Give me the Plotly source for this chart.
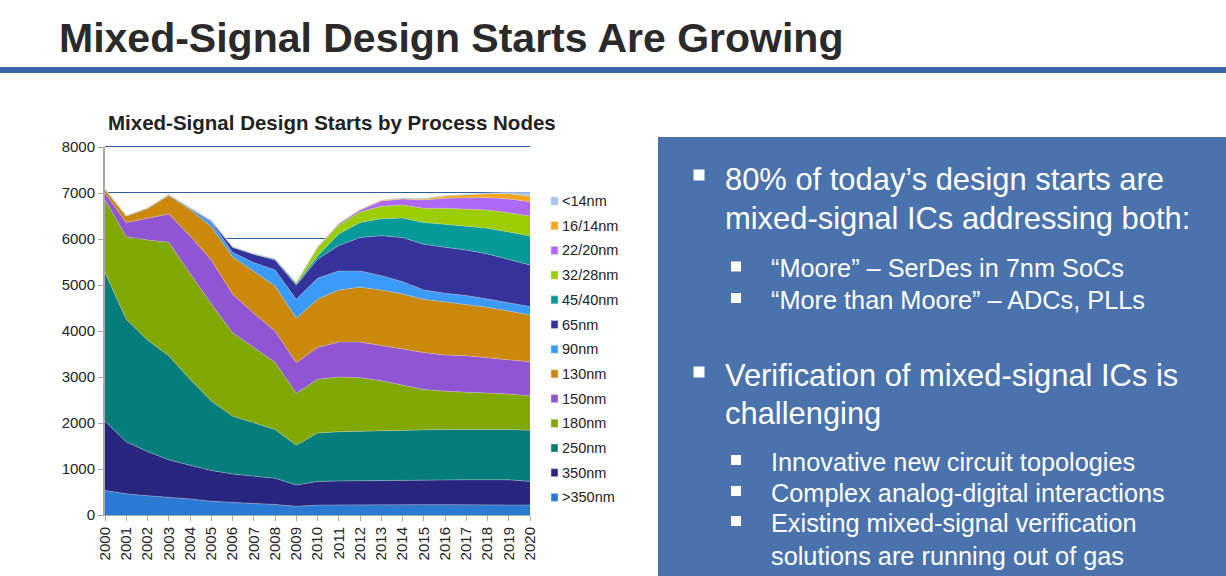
import plotly.graph_objects as go

years = list(range(2000, 2021))
y_ticks = list(range(0, 9000, 1000))

# cumulative top edge of each band
top_gt350 = [530, 460, 420, 390, 350, 300, 270, 250, 230, 188, 215, 220, 220, 225, 225, 225, 225, 225, 225, 225, 215]
top_350 = [2040, 1590, 1380, 1200, 1080, 970, 890, 840, 800, 652, 730, 740, 745, 760, 760, 765, 765, 765, 765, 765, 730]
top_250 = [5270, 4254, 3805, 3460, 2950, 2480, 2150, 2000, 1860, 1515, 1780, 1810, 1820, 1840, 1845, 1855, 1860, 1860, 1860, 1860, 1840]
top_180 = [6850, 6050, 5980, 5928, 5254, 4590, 3964, 3650, 3320, 2645, 2950, 3000, 2985, 2920, 2830, 2730, 2690, 2670, 2650, 2630, 2590]
top_150 = [7000, 6355, 6450, 6544, 6066, 5544, 4805, 4385, 4000, 3311, 3640, 3760, 3760, 3690, 3610, 3530, 3480, 3460, 3420, 3380, 3330]
top_130 = [7080, 6500, 6667, 6943, 6645, 6269, 5616, 5290, 4979, 4276, 4689, 4892, 4950, 4892, 4805, 4689, 4630, 4573, 4515, 4435, 4348]
top_90 = [7085, 6505, 6672, 6960, 6667, 6377, 5710, 5486, 5327, 4689, 5145, 5305, 5305, 5203, 5073, 4892, 4820, 4770, 4696, 4616, 4530]
top_65 = [7085, 6505, 6672, 6965, 6680, 6400, 5820, 5667, 5544, 4993, 5560, 5856, 6030, 6073, 6030, 5885, 5820, 5760, 5675, 5560, 5435]
top_45 = [7085, 6505, 6672, 6965, 6680, 6400, 5830, 5680, 5566, 5022, 5630, 6110, 6356, 6442, 6457, 6356, 6320, 6283, 6232, 6153, 6065]
top_32 = [7085, 6505, 6672, 6965, 6680, 6400, 5830, 5680, 5570, 5051, 5800, 6305, 6587, 6711, 6740, 6667, 6667, 6650, 6630, 6570, 6500]
top_22 = [7085, 6505, 6672, 6965, 6680, 6400, 5830, 5680, 5570, 5055, 5820, 6330, 6630, 6825, 6870, 6850, 6885, 6900, 6900, 6870, 6810]
top_16 = [7085, 6505, 6672, 6965, 6680, 6400, 5830, 5680, 5570, 5055, 5825, 6335, 6640, 6840, 6885, 6870, 6935, 6957, 6985, 6985, 6935]
top_14 = [7085, 6505, 6672, 6965, 6680, 6400, 5830, 5680, 5570, 5055, 5825, 6335, 6640, 6845, 6895, 6885, 6945, 6975, 7000, 7015, 7010]

names = [">350nm", "350nm", "250nm", "180nm", "150nm", "130nm", "90nm", "65nm", "45/40nm", "32/28nm", "22/20nm", "16/14nm", "<14nm"]
tops = [top_gt350, top_350, top_250, top_180, top_150, top_130, top_90, top_65, top_45, top_32, top_22, top_16, top_14]
colors = ["#2B7BD4", "#29267F", "#067D7D", "#80A800", "#8F55D3", "#CC880B", "#3A9BFA", "#36329B", "#06999A", "#9CCD00", "#AF69F7", "#F6A61C", "#A6C5F8"]

FONT = "Liberation Sans"
GRID = "#2A5F98"
W, H = 1226, 576
LEFT, RIGHT, TOP, BOTTOM = 105, 530, 147, 515


# page pixels to paper coords, paper is the plot area here
def px(x):
    return (x - LEFT) / (RIGHT - LEFT)


def py(y):
    return (BOTTOM - y) / (BOTTOM - TOP)


def rect(x0, x1, y0, y1, color, line=None):
    return dict(type="rect", xref="paper", yref="paper", x0=px(x0), x1=px(x1), y0=py(y1), y1=py(y0),
                fillcolor=color, line=line or dict(width=0), layer="above")


fig = go.Figure()
for i, (name, top, color) in enumerate(zip(names, tops, colors)):
    fig.add_trace(go.Scatter(
        x=years, y=top, name=name, mode="lines",
        line=dict(color="rgba(215,215,215,0.6)", width=0.6),
        fill="tozeroy" if i == 0 else "tonexty",
        fillcolor=color,
        showlegend=False,
    ))

shapes = [rect(0, W, 67, 73, "#3A62A6"), rect(658, W, 137, H, "#4A72AD")]

# gridlines as shapes, plotly drops the one on the range edge; half pixel keeps them sharp
for tick in y_ticks[1:]:
    grid_y = tick / y_ticks[-1] + 0.5 / (BOTTOM - TOP)
    shapes.append(dict(type="line", xref="paper", yref="paper", x0=0, x1=1, y0=grid_y, y1=grid_y,
                       line=dict(color=GRID, width=1), layer="below"))

annotations = [
    dict(text="<b>Mixed-Signal Design Starts Are Growing</b>", x=57, y=38, size=41, color="#2A2A2A"),
    dict(text="<b>Mixed-Signal Design Starts by Process Nodes</b>", x=106, y=122, size=20.5, color="#222222"),
]

# legend, top entry first
for i, (name, color) in enumerate(zip(names[::-1], colors[::-1])):
    y = 201 + i * 24.7
    shapes.append(rect(551, 558, y - 4, y + 4, color, dict(color="#D8D8D8", width=0.5)))
    annotations.append(dict(text=name, x=560, y=y, size=14.5, color="#222222"))

panel_text = [
    ("80% of today’s design starts are", 723, 179, 30.9),
    ("mixed-signal ICs addressing both:", 723, 218, 30.9),
    ("“Moore” – SerDes in 7nm SoCs", 769, 268, 25.3),
    ("“More than Moore” – ADCs, PLLs", 769, 300, 25.3),
    ("Verification of mixed-signal ICs is", 723, 375, 30.9),
    ("challenging", 723, 413, 30.9),
    ("Innovative new circuit topologies", 769, 462, 25.3),
    ("Complex analog-digital interactions", 769, 493, 25.3),
    ("Existing mixed-signal verification", 769, 523, 25.3),
    ("solutions are running out of gas", 769, 556, 25.3),
]
for text, x, y, size in panel_text:
    annotations.append(dict(text=text, x=x, y=y, size=size, color="white"))

bullets = [(699, 175, 5.5), (699, 372, 5.5), (736, 266.5, 5), (736, 298, 5), (736, 460, 5), (736, 491, 5), (736, 521, 5)]
for x, y, r in bullets:
    shapes.append(rect(x - r, x + r, y - r, y + r, "white"))

fig.update_layout(
    width=W, height=H,
    margin=dict(l=LEFT, r=W - RIGHT, t=TOP, b=H - BOTTOM, autoexpand=False),
    paper_bgcolor="white", plot_bgcolor="white",
    showlegend=False,
    shapes=shapes,
    annotations=[
        dict(text=a["text"], xref="paper", yref="paper", x=px(a["x"]), y=py(a["y"]),
             xanchor="left", yanchor="middle", showarrow=False,
             font=dict(family=FONT, size=a["size"], color=a["color"]))
        for a in annotations
    ],
    xaxis=dict(range=[2000, 2020], tickvals=years, ticktext=[str(y) for y in years], tickangle=-90,
               ticks="outside", ticklen=5, tickcolor="#A8A8A8", showgrid=False, showline=True,
               linecolor="#A8A8A8", linewidth=1, zeroline=False,
               tickfont=dict(family=FONT, size=15, color="#222222")),
    yaxis=dict(range=[0, 8000], tickvals=y_ticks, ticks="outside", ticklen=5,
               tickcolor="#A8A8A8", showgrid=False, showline=True,
               linecolor="#A8A8A8", linewidth=2, zeroline=False, tickformat="d",
               tickfont=dict(family=FONT, size=15, color="#222222")),
)

fig.write_html("out.html", config=dict(displayModeBar=False), post_script="document.body.style.margin = '0';")
